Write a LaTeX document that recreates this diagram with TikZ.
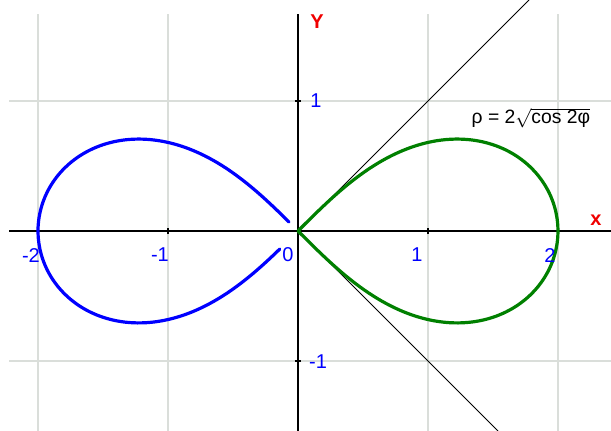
\documentclass[tikz,border=0pt]{standalone}
\usepackage{fontspec}
\setmainfont{Liberation Sans}
\usepackage{tikz}
\usetikzlibrary{calc}
\definecolor{gridgray}{RGB}{218,222,218}
\definecolor{plotblue}{RGB}{0,0,255}
\definecolor{plotgreen}{RGB}{0,128,0}
\definecolor{axisred}{RGB}{240,0,0}

\begin{document}
\begin{tikzpicture}[x=97.5pt,y=97.5pt,
    ticklabel/.style={text=plotblue, font=\fontsize{15}{15}\selectfont, inner sep=0pt},
    axislabel/.style={text=axisred, font=\bfseries\fontsize{15}{15}\selectfont, inner sep=0pt},
    loop/.style={line width=2.4pt, line cap=round, line join=round}]
        \useasboundingbox (-2.2923,-1.5385) rectangle (2.4077,1.7769);
        % grid
        \foreach \gx in {-2,-1,1,2}
          \draw[gridgray, line width=1.5pt] (\gx,-1.5385) -- (\gx,1.669);
        \foreach \gy in {-1,1}
          \draw[gridgray, line width=1.5pt] (-2.223,\gy) -- (2.4077,\gy);
        % axes
        \draw[line width=1.5pt] (-2.223,0) -- (2.4077,0);
        \draw[line width=1.5pt] (0,-1.5385) -- (0,1.669);
        \foreach \gx in {-2,-1,1,2}
          \draw[line width=1pt] (\gx,-0.025) -- (\gx,0.025);
        \foreach \gy in {-1,1}
          \draw[line width=1pt] (-0.025,\gy) -- (0.025,\gy);
        % tangents at the node
        \coordinate (O) at (0,0);
        \coordinate (tanup) at (1.7769,1.7769);
        \coordinate (tandown) at (1.5385,-1.5385);
        \draw[line width=0.75pt] (O) -- (tanup);
        \draw[line width=0.75pt] (O) -- (tandown);
        % lemniscate
        \draw[loop, color=plotgreen] plot[domain=-90:90, samples=240, smooth, variable=\t]
          ({2*cos(\t)/(1+sin(\t)*sin(\t))}, {2*sin(\t)*cos(\t)/(1+sin(\t)*sin(\t))});
        \draw[loop, color=plotblue] plot[domain=98:266, samples=240, smooth, variable=\t]
          ({2*cos(\t)/(1+sin(\t)*sin(\t))}, {2*sin(\t)*cos(\t)/(1+sin(\t)*sin(\t))});
        % labels
        \node[ticklabel] (xm2) at (-2.054,-0.185) {-2};
        \node[ticklabel] (xm1) at (-1.062,-0.185) {-1};
        \node[ticklabel] (x0) at (-0.077,-0.180) {0};
        \node[ticklabel] (x1) at (0.915,-0.185) {1};
        \node[ticklabel] (x2) at (1.938,-0.185) {2};
        \node[ticklabel] (y1) at (0.138,1.0) {1};
        \node[ticklabel] (ym1) at (0.154,-1.008) {-1};
        \node[axislabel] (ylabel) at (0.146,1.608) {Y};
        \node[axislabel] (xlabel) at (2.292,0.085) {x};
        \node[font=\fontsize{14.5}{15}\selectfont, inner sep=0pt] (formula) at (1.792,0.869) {ρ = 2$\sqrt{\mbox{cos 2φ}}$};
      \end{tikzpicture}
\end{document}
